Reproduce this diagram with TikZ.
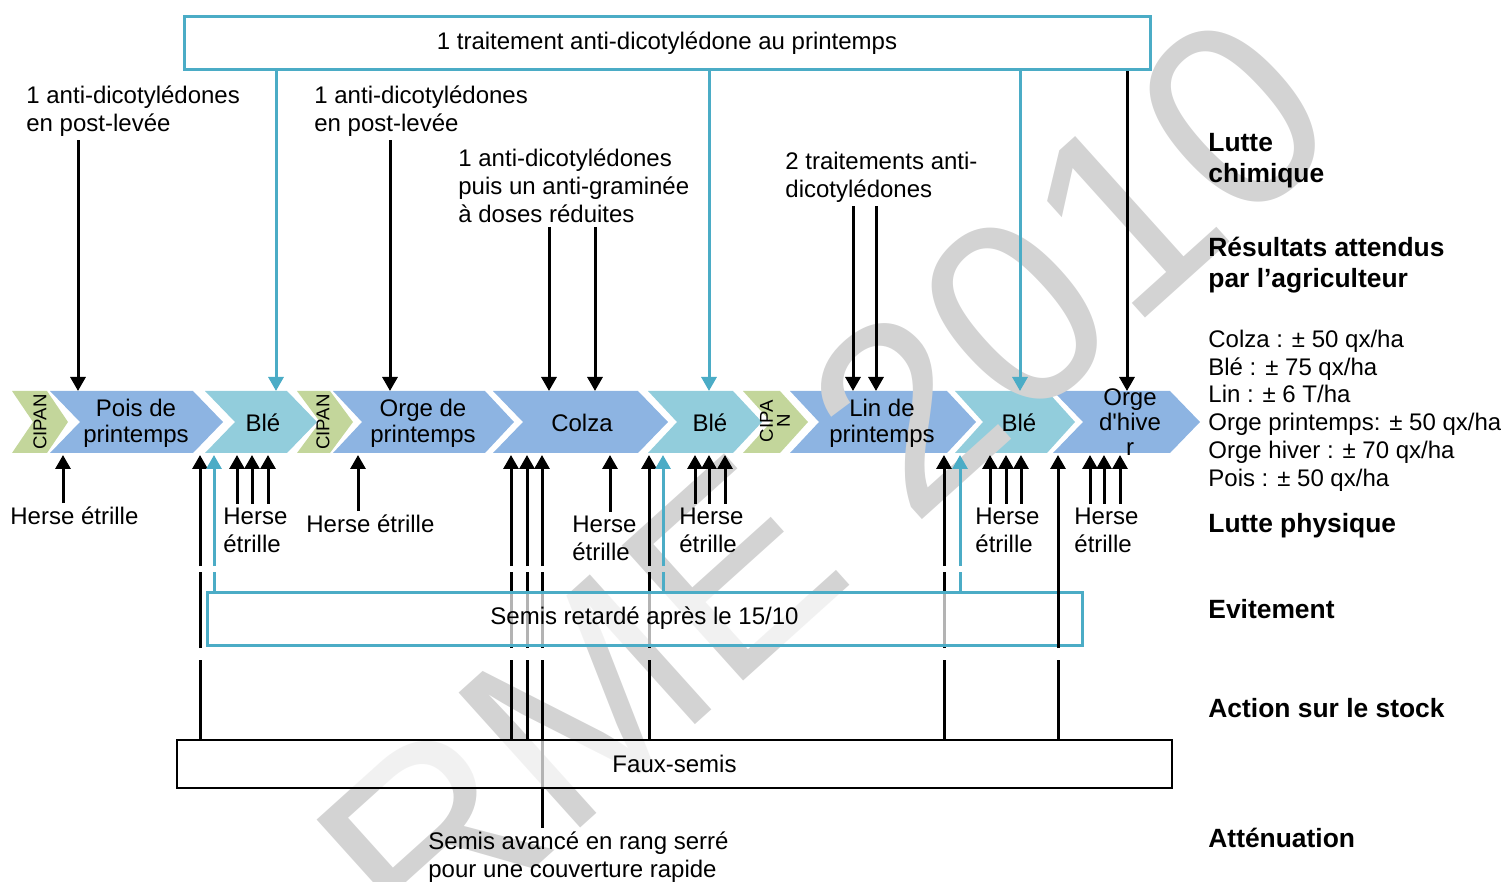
\documentclass[tikz,border=0pt]{standalone}
\usepackage{fontspec}
\setmainfont{Liberation Sans}
\usetikzlibrary{arrows.meta}
\pgfdeclarelayer{back}
\pgfsetlayers{back,main}

\definecolor{cropblue}{HTML}{8DB4E2}
\definecolor{bleblue}{HTML}{92CDDC}
\definecolor{cipangreen}{HTML}{C3D69B}
\definecolor{linecyan}{HTML}{4BACC6}
\definecolor{wmgray}{HTML}{D3D3D3}

\begin{document}
\begin{tikzpicture}[x=0.5pt, y=-0.5pt]
    \tikzset{
        arr/.style={line width=1.5pt, -{Triangle[width=7.5pt,length=7pt]}},
        carr/.style={arr, draw=linecyan, -{Triangle[width=7.5pt,length=7pt,fill=linecyan]}},
        lbl/.style={font=\fontsize{12}{13.9}\selectfont, align=left, anchor=west,
            inner sep=0pt, outer ysep=2pt},
        ttl/.style={lbl, font=\bfseries\fontsize{13.2}{15.6}\selectfont},
        crop/.style={font=\fontsize{12}{13}\selectfont, align=center, inner sep=0pt},
        cipan/.style={font=\fontsize{9.3}{8.5}\selectfont, align=center, inner sep=0pt, rotate=90},
        cbox/.style={draw=linecyan, line width=1.5pt, fill=white, fill opacity=0.7,
            text opacity=1, font=\fontsize{12}{14}\selectfont, inner sep=0pt},
    }

    \useasboundingbox (0,0) rectangle (1501,882);

    % Boxes
    \node[cbox, minimum width=483pt, minimum height=26.5pt] (top) at (667,43.5)
        {1 traitement anti-dicotylédone au printemps};
    \node[cbox, minimum width=437.5pt, minimum height=26.5pt] (semis) at (644.5,618.5)
        {Semis retardé après le 15/10};
    \node[cbox, draw=black, line width=1pt, minimum width=497.5pt, minimum height=24pt] (faux)
        at (674.5,764) {Faux-semis};

    % Chemical treatments
    \node[lbl] (l1) at (26,111) {1 anti-dicotylédones\\en post-levée};
    \node[lbl] (l2) at (314,111) {1 anti-dicotylédones\\en post-levée};
    \node[lbl] (l3) at (458,186) {1 anti-dicotylédones\\puis un anti-graminée\\à doses réduites};
    \node[lbl] (l4) at (785,177) {2 traitements anti-\\dicotylédones};

    % Herse etrille
    \node[lbl] (h1) at (10,516) {Herse étrille};
    \node[lbl] (h2) at (223,530) {Herse\\étrille};
    \node[lbl] (h3) at (306,524) {Herse étrille};
    \node[lbl] (h4) at (572,538) {Herse\\étrille};
    \node[lbl] (h5) at (679,530) {Herse\\étrille};
    \node[lbl] (h6) at (975,530) {Herse\\étrille};
    \node[lbl] (h7) at (1074,530) {Herse\\étrille};
    \node[lbl] (sa) at (428,857) {Semis avancé en rang serré\\pour une couverture rapide};

    % Right column
    \node[ttl] (r1) at (1208,160.5) {Lutte\\chimique};
    \node[ttl] (r2) at (1208,265) {Résultats attendus\\par l’agriculteur};
    \node[lbl] (r3) at (1208,410.5) {Colza : ± 50 qx/ha\\Blé : ± 75 qx/ha\\Lin : ± 6 T/ha\\%
        Orge printemps: ± 50 qx/ha\\Orge hiver : ± 70 qx/ha\\Pois : ± 50 qx/ha};
    \node[ttl] (r4) at (1208,526) {Lutte physique};
    \node[ttl] (r5) at (1208,609) {Evitement};
    \node[ttl] (r6) at (1208,708) {Action sur le stock};
    \node[ttl] (r7) at (1208,838) {Atténuation};

    % Crop labels
    \node[cipan] (cip1) at (40,422) {CIPAN};
    \node[crop] (pois) at (136,423) {Pois de\\printemps};
    \node[crop] (ble1) at (263,423) {Blé};
    \node[cipan] (cip2) at (323,422) {CIPAN};
    \node[crop] (orgep) at (423,423) {Orge de\\printemps};
    \node[crop] (colza) at (582,423) {Colza};
    \node[crop] (ble2) at (710,423) {Blé};
    \node[cipan] (cip3) at (775,421) {CIPA\\N};
    \node[crop] (lin) at (882,423) {Lin de\\printemps};
    \node[crop] (ble3) at (1019,423) {Blé};
    \node[crop, font=\fontsize{12}{12.5}\selectfont] (orgeh) at (1130,422)
        {Orge\\d\textquotesingle hive\\r};

    % Band edges and gaps
    \foreach \x in {78,276,390,549,595,709,853,876,1020,1127}
        \coordinate (d\x) at (\x,391);
    \foreach \x in {63,200,214,237,252,268,358,511,527,542,610,649,663,695,709,725,944,960,990,1006,1021,1058,1090,1104,1120}
        \coordinate (u\x) at (\x,455);
    \coordinate (gA) at (0,566);
    \coordinate (gB) at (0,572);
    \coordinate (gC) at (0,648);
    \coordinate (gD) at (0,660);

    \begin{pgfonlayer}{back}
        % Rotation
        \foreach \xl/\xr/\dd/\col in {12/47/21/cipangreen, 50/193/30/cropblue, 205/287/30/bleblue,
            297/330/23/cipangreen, 333/485/29/cropblue, 493/638/30/cropblue, 648/733/29/bleblue,
            743/780/28/cipangreen, 790/947/29/cropblue, 955/1047/28/bleblue, 1053/1170/30/cropblue}
            \fill[\col] (\xl,391) -- (\xr,391) -- ++(\dd,31) -- (\xr,453) -- (\xl,453) -- ++(\dd,-31) -- cycle;

        \node[rotate=42, text=wmgray, font=\fontsize{132}{132}\selectfont, inner sep=0pt] (wm)
            at (825,485) {RME 2010};

        % Arrows from above
        \draw[arr] (l1.south -| d78) -- (d78);
        \draw[carr] (top.south -| d276) -- (d276);
        \draw[arr] (l2.south -| d390) -- (d390);
        \draw[arr] (l3.south -| d549) -- (d549);
        \draw[arr] (l3.south -| d595) -- (d595);
        \draw[carr] (top.south -| d709) -- (d709);
        \draw[arr] (l4.south -| d853) -- (d853);
        \draw[arr] (l4.south -| d876) -- (d876);
        \draw[carr] (top.south -| d1020) -- (d1020);
        \draw[arr] (top.south -| d1127) -- (d1127);

        % Arrows from below
        \draw[arr] (h1.north -| u63) -- (u63);
        \foreach \x in {237,252,268} \draw[arr] (h2.north -| u\x) -- (u\x);
        \draw[arr] (h3.north -| u358) -- (u358);
        \draw[arr] (h4.north -| u610) -- (u610);
        \foreach \x in {695,709,725} \draw[arr] (h5.north -| u\x) -- (u\x);
        \foreach \x in {990,1006,1021} \draw[arr] (h6.north -| u\x) -- (u\x);
        \foreach \x in {1090,1104,1120} \draw[arr] (h7.north -| u\x) -- (u\x);

        \foreach \x in {200,511,527,649,944}
            \draw[arr] (faux.north -| u\x) -- (gD -| u\x) (gC -| u\x) -- (gB -| u\x) (gA -| u\x) -- (u\x);
        \draw[arr] (sa.north -| u542) -- (gD -| u542) (gC -| u542) -- (gB -| u542) (gA -| u542) -- (u542);
        \foreach \x in {214,663,960}
            \draw[carr] (semis.north -| u\x) -- (gB -| u\x) (gA -| u\x) -- (u\x);
    \end{pgfonlayer}

    \draw[arr] (faux.north -| u1058) -- (gD -| u1058) (gC -| u1058) -- (u1058);
\end{tikzpicture}
\end{document}
